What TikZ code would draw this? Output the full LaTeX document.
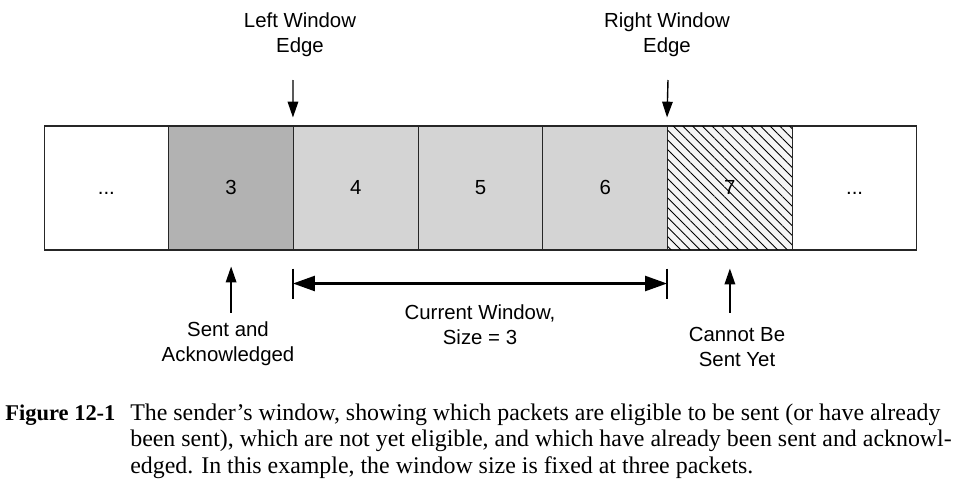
\documentclass[tikz,border=0pt]{standalone}
\usepackage{fontspec}
\setmainfont{Liberation Serif}
\setsansfont{Liberation Sans}
\usetikzlibrary{arrows.meta,patterns.meta}

\tikzset{
  cell/.style={draw=black!85, line width=0.6pt, minimum width=2.494cm,
    minimum height=2.48cm, inner sep=0pt, text height=1.5ex, text depth=0pt,
    font=\sffamily\fontsize{11.6}{14.2}\selectfont},
  lbl/.style={align=center, inner sep=0pt,
    font=\sffamily\fontsize{11.6}{14.2}\selectfont},
  edgearrow/.style={-{Triangle[length=9pt,width=6pt]}, line width=0.8pt},
  winarrow/.style={{Triangle[length=0.44cm,width=0.3cm]}-{Triangle[length=0.44cm,width=0.3cm]},
    line width=1.4pt},
}

\begin{document}
\begin{tikzpicture}[x=0.02cm,y=-0.02cm]
  \useasboundingbox (0,0) rectangle (964,480);

  % Packets
  \node[cell, fill=white] (c2) at (106.4,188) {...};
  \node[cell, fill=black!30] (c3) at (231.1,188) {3};
  \node[cell, fill=black!17] (c4) at (355.8,188) {4};
  \node[cell, fill=black!17] (c5) at (480.5,188) {5};
  \node[cell, fill=black!17] (c6) at (605.2,188) {6};
  \node[cell, fill=black!4,
    postaction={pattern={Lines[angle=-45,distance=3.9pt,line width=0.5pt]}}] (c7) at (729.9,188) {7};
  \node[cell, fill=white] (c8) at (854.6,188) {...};

  % Window edges
  \node[lbl] (lwe) at (300,35) {Left Window\\Edge};
  \node[lbl] (rwe) at (667,35) {Right Window\\Edge};
  \coordinate (lwetail) at (293,80);
  \coordinate (rwetail) at (668,80);
  \draw[edgearrow] (lwetail) -- ([yshift=0.16cm]c4.north west);
  \draw[edgearrow] (rwetail) -- ([yshift=0.16cm]c7.north west);

  % Sent and acknowledged
  \node[lbl] (ack) at (228,344) {Sent and\\Acknowledged};
  \draw[edgearrow] ([yshift=-1.24cm]c3.south) -- ([yshift=-0.32cm]c3.south);

  % Cannot be sent yet
  \node[lbl] (notyet) at (737,347) {Cannot Be\\Sent Yet};
  \draw[edgearrow] ([yshift=-1.24cm]c7.south) -- ([yshift=-0.36cm]c7.south);

  % Current window
  \draw[line width=1.5pt] ([yshift=-0.36cm]c4.south west) -- ([yshift=-0.96cm]c4.south west);
  \draw[line width=1.5pt] ([yshift=-0.36cm]c7.south west) -- ([yshift=-0.96cm]c7.south west);
  \draw[winarrow] ([yshift=-0.66cm]c4.south west) -- ([yshift=-0.66cm]c7.south west);
  \node[lbl] (cur) at (480,325) {Current Window,\\Size = 3};

  % Caption
  \node[anchor=north west, inner sep=0pt, font=\fontsize{13.6}{15.2}\selectfont] (cap) at (5,401)
    {\begin{tabular}{@{}p{2.5cm}@{}l@{}}
      {\fontsize{12.8}{15.2}\selectfont\textbf{Figure 12-1}} & The sender’s window, showing which packets are eligible to be sent (or have already\\
      & been sent), which are not yet eligible, and which have already been sent and acknowl-\\
      & edged. In this example, the window size is fixed at three packets.
    \end{tabular}};
\end{tikzpicture}
\end{document}
